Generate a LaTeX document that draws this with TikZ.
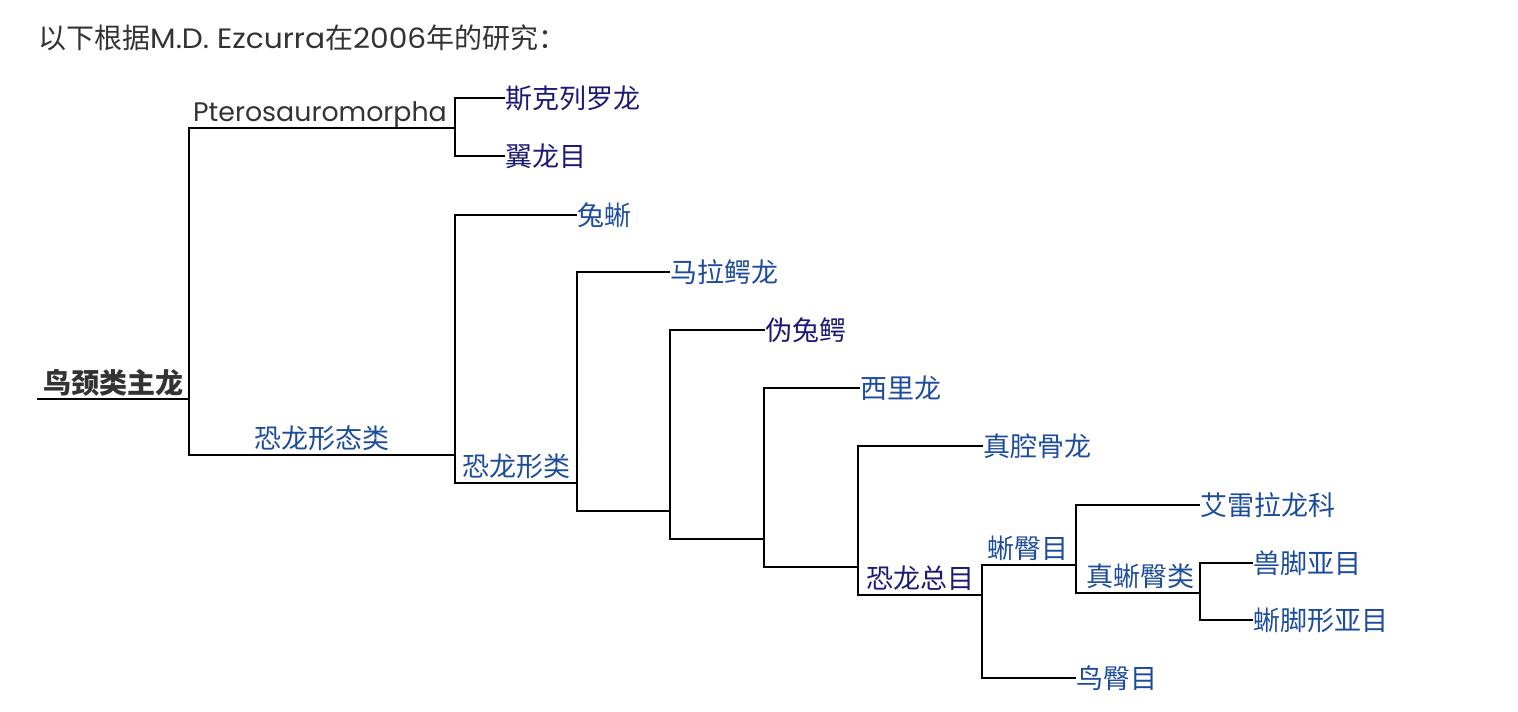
\documentclass[tikz,border=0pt]{standalone}
\usepackage{fontspec}
\setmainfont{Noto Sans CJK SC}
\newfontfamily\cjk{Noto Sans CJK SC}
\newfontfamily\lat{Poppins}
\newfontfamily\latw[FakeStretch=1.06]{Poppins}
\definecolor{navy}{HTML}{1C1A74}
\definecolor{cblue}{HTML}{1D4C9C}
\definecolor{tgray}{HTML}{333333}
\begin{document}
\begin{tikzpicture}[x=1pt,y=-1pt,
  br/.style={line width=2.1pt,line cap=rect},
  leaf/.style={anchor=west,inner sep=1pt,font=\cjk\fontsize{27}{27}\selectfont},
  lab/.style={anchor=base,inner sep=0pt,font=\cjk\fontsize{27}{27}\selectfont}]
\useasboundingbox (0,0) rectangle (1518,712);
\node[anchor=base west,inner sep=0pt,text=tgray,font=\fontsize{28}{28}\selectfont] (title) at (38,48) {以下根据{\latw M.D. Ezcurra}在{\latw 2006}年的研究：};
% junction coordinates
\coordinate (r0) at (38,399);
\coordinate (j1) at (189,399);
\coordinate (j1t) at (189,128);
\coordinate (j1b) at (189,455);
\coordinate (pj) at (455,128);
\coordinate (pjt) at (455,98);
\coordinate (pjb) at (455,156);
\coordinate (dj) at (455,455);
\coordinate (djt) at (455,215);
\coordinate (djb) at (455,483);
\coordinate (fj) at (577,483);
\coordinate (fjt) at (577,272);
\coordinate (fjb) at (577,511);
\coordinate (gj) at (670,511);
\coordinate (gjt) at (670,330);
\coordinate (gjb) at (670,539);
\coordinate (hj) at (764,539);
\coordinate (hjt) at (764,388);
\coordinate (hjb) at (764,567);
\coordinate (kj) at (858,567);
\coordinate (kjt) at (858,446);
\coordinate (kjb) at (858,595);
\coordinate (dnj) at (982,595);
\coordinate (dnjt) at (982,565);
\coordinate (dnjb) at (982,678);
\coordinate (sj) at (1076,565);
\coordinate (sjt) at (1076,505);
\coordinate (sjb) at (1076,593);
\coordinate (ej) at (1200,593);
\coordinate (ejt) at (1200,563);
\coordinate (ejb) at (1200,620);
% leaves
\node[leaf,text=navy] (skl) at (504,98) {斯克列罗龙};
\node[leaf,text=navy] (ylm) at (504,156) {翼龙目};
\node[leaf,text=cblue] (tx) at (576,215) {兔蜥};
\node[leaf,text=cblue] (mle) at (669,272) {马拉鳄龙};
\node[leaf,text=navy] (wte) at (764,330) {伪兔鳄};
\node[leaf,text=cblue] (xll) at (859,388) {西里龙};
\node[leaf,text=cblue] (zqg) at (982,446) {真腔骨龙};
\node[leaf,text=cblue] (alk) at (1199,505) {艾雷拉龙科};
\node[leaf,text=cblue] (sjy) at (1252,563) {兽脚亚目};
\node[leaf,text=cblue] (sjx) at (1252,620) {蜥脚形亚目};
\node[leaf,text=cblue] (nbm) at (1075,678) {鸟臀目};
% branch labels
\node[lab,text=tgray,font=\lat\fontsize{26.8}{26.8}\selectfont] (ptl) at (320,121) {Pterosauromorpha};
\node[lab,text=tgray,font=\cjk\bfseries\fontsize{28}{28}\selectfont] (rl) at (113,393) {鸟颈类主龙};
\node[lab,text=cblue] (dml) at (322,448) {恐龙形态类};
\node[lab,text=cblue] (dfl) at (516,476) {恐龙形类};
\node[lab,text=navy] (dnl) at (920,588) {恐龙总目};
\node[lab,text=cblue] (sbl) at (1028,558) {蜥臀目};
\node[lab,text=cblue] (esl) at (1140,586) {真蜥臀类};
% connectors
\draw[br] (r0) -- (j1);
\draw[br] (j1t) -- (j1b);
\draw[br] (j1t) -- (pj);
\draw[br] (pjt) -- (pjb);
\draw[br] (pjt) -- (skl.west);
\draw[br] (pjb) -- (ylm.west);
\draw[br] (j1b) -- (dj);
\draw[br] (djt) -- (djb);
\draw[br] (djt) -- (tx.west);
\draw[br] (djb) -- (fj);
\draw[br] (fjt) -- (fjb);
\draw[br] (fjt) -- (mle.west);
\draw[br] (fjb) -- (gj);
\draw[br] (gjt) -- (gjb);
\draw[br] (gjt) -- (wte.west);
\draw[br] (gjb) -- (hj);
\draw[br] (hjt) -- (hjb);
\draw[br] (hjt) -- (xll.west);
\draw[br] (hjb) -- (kj);
\draw[br] (kjt) -- (kjb);
\draw[br] (kjt) -- (zqg.west);
\draw[br] (kjb) -- (dnj);
\draw[br] (dnjt) -- (dnjb);
\draw[br] (dnjt) -- (sj);
\draw[br] (dnjb) -- (nbm.west);
\draw[br] (sjt) -- (sjb);
\draw[br] (sjt) -- (alk.west);
\draw[br] (sjb) -- (ej);
\draw[br] (ejt) -- (ejb);
\draw[br] (ejt) -- (sjy.west);
\draw[br] (ejb) -- (sjx.west);
\end{tikzpicture}
\end{document}
